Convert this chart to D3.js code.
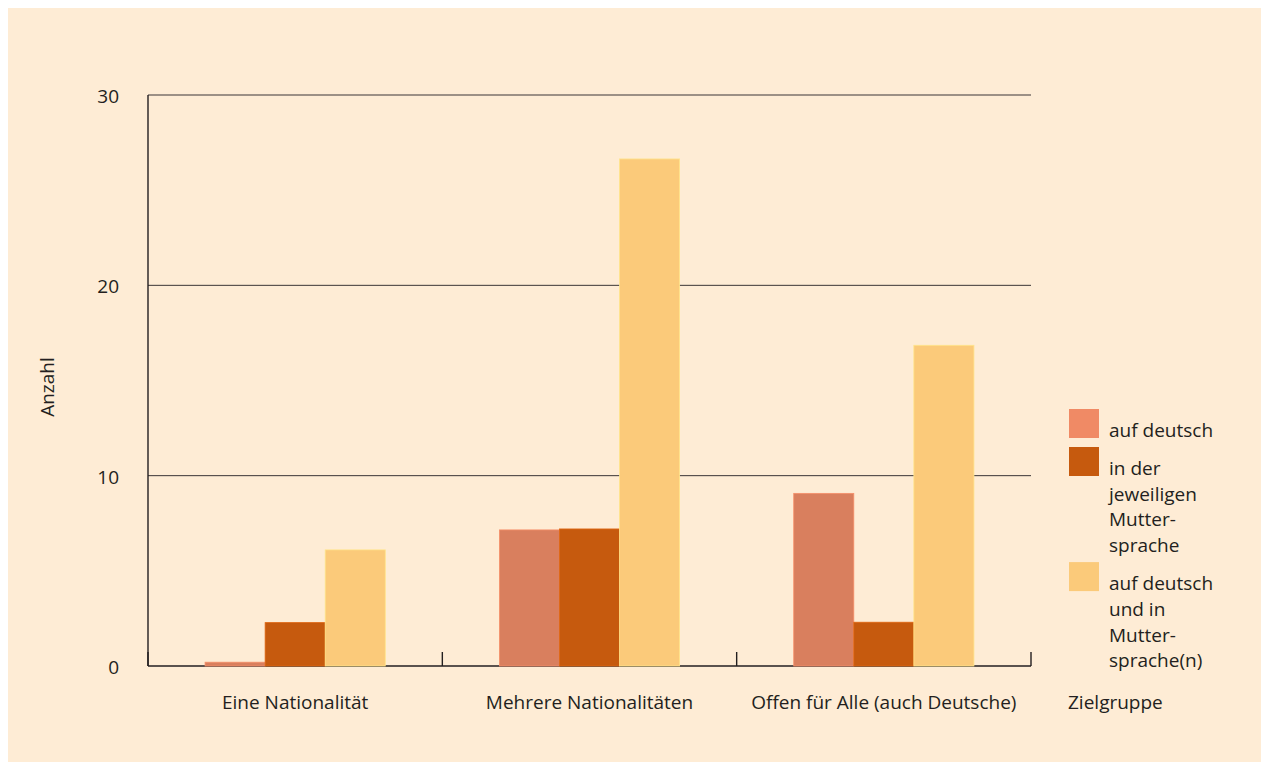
<!DOCTYPE html>
<html>
<head>
<meta charset="utf-8">
<script src="https://cdn.jsdelivr.net/npm/d3@7"></script>
<style>
  html, body { margin: 0; padding: 0; background: #ffffff; }
  svg { display: block; }
  text { font-family: "Open Sans", Lato, sans-serif; fill: #231f20; }
</style>
</head>
<body>
<svg id="chart" width="1261" height="762"></svg>
<script>
// ---- data ----
const categories = ["Eine Nationalität", "Mehrere Nationalitäten", "Offen für Alle (auch Deutsche)"];
const seriesNames = ["auf deutsch", "in der jeweiligen Muttersprache", "auf deutsch und in Muttersprache(n)"];
const aufDeutsch = [0.2, 7.15, 9.07];
const inMuttersprache = [2.28, 7.2, 2.3];
const beides = [6.1, 26.64, 16.85];
const yTicks = [0, 10, 20, 30];
const legendLines = [
  ["auf deutsch"],
  ["in der", "jeweiligen", "Mutter-", "sprache"],
  ["auf deutsch", "und in", "Mutter-", "sprache(n)"]
];
const yAxisTitle = "Anzahl";
const xAxisTitle = "Zielgruppe";

// ---- styles ----
const barColors = ["#d97f5e", "#c65a0e", "#fbca7a"];
const legendColors = ["#f08a65", "#c65a0e", "#fbca7a"];
const bg = "#feecd5";
const fs = 19;

const svg = d3.select("#chart");
svg.append("rect").attr("x", 8).attr("y", 8).attr("width", 1253).attr("height", 754).attr("fill", bg);

const plot = { left: 148, right: 1031, top: 95, bottom: 666 };

const x0 = d3.scaleBand().domain(categories).range([plot.left, plot.right]).padding(0);
const x1 = d3.scaleBand().domain(d3.range(3)).range([0, x0.bandwidth()]).paddingInner(0).paddingOuter(0.95);
const y = d3.scaleLinear().domain([0, 30]).range([plot.bottom, plot.top]);

// gridlines
svg.append("g").selectAll("line").data(yTicks.filter(d => d > 0)).join("line")
  .attr("x1", plot.left).attr("x2", plot.right)
  .attr("y1", d => y(d)).attr("y2", d => y(d))
  .attr("stroke", "#3a3536").attr("stroke-width", 1);

// y tick labels
svg.append("g").selectAll("text").data(yTicks).join("text")
  .attr("x", 119).attr("y", d => y(d) + 3)
  .attr("text-anchor", "end").attr("dominant-baseline", "middle")
  .attr("font-size", 19).text(d => d);

// axes lines
svg.append("line").attr("x1", plot.left).attr("x2", plot.left).attr("y1", plot.top).attr("y2", plot.bottom)
  .attr("stroke", "#231f20").attr("stroke-width", 1.4);
svg.append("line").attr("x1", plot.left).attr("x2", plot.right).attr("y1", plot.bottom).attr("y2", plot.bottom)
  .attr("stroke", "#231f20").attr("stroke-width", 1.4);
// band boundary ticks
const bounds = categories.map(c => x0(c) + x0.bandwidth()).concat([plot.left]);
svg.append("g").selectAll("line").data(bounds).join("line")
  .attr("x1", d => d).attr("x2", d => d)
  .attr("y1", plot.bottom - 14).attr("y2", plot.bottom)
  .attr("stroke", "#231f20").attr("stroke-width", 1.4);

// bars
const series = [aufDeutsch, inMuttersprache, beides];
const rows = [];
categories.forEach((c, i) => series.forEach((s, j) => rows.push({ c, j, v: s[i] })));
svg.append("g").selectAll("rect").data(rows).join("rect")
  .attr("x", d => x0(d.c) + x1(d.j))
  .attr("width", x1.bandwidth())
  .attr("y", d => y(d.v))
  .attr("height", d => y(0) - y(d.v))
  .attr("fill", d => barColors[d.j])
  .attr("stroke", d => d3.color(barColors[d.j]).brighter(0.35))
  .attr("stroke-width", 0.8);

// category labels
svg.append("g").selectAll("text").data(categories).join("text")
  .attr("x", d => x0(d) + x0.bandwidth() / 2)
  .attr("y", 709)
  .attr("text-anchor", "middle").attr("font-size", fs)
  .text(d => d);

// x title
svg.append("text").attr("x", 1068).attr("y", 709).attr("font-size", fs).text(xAxisTitle);

// y title
svg.append("text").attr("transform", "translate(54,387) rotate(-90)")
  .attr("text-anchor", "middle").attr("font-size", fs).text(yAxisTitle);

// legend
const lineH = 25.7;
let ly = 409;
legendLines.forEach((lines, i) => {
  const g = svg.append("g");
  g.append("rect").attr("x", 1069).attr("y", ly).attr("width", 30).attr("height", 29)
    .attr("fill", legendColors[i]);
  g.selectAll("text").data(lines).join("text")
    .attr("x", 1109).attr("y", (d, k) => ly + 28 + k * lineH)
    .attr("font-size", fs).text(d => d);
  ly += 28 + (lines.length - 1) * lineH + 10;
});
</script>
</body>
</html>
